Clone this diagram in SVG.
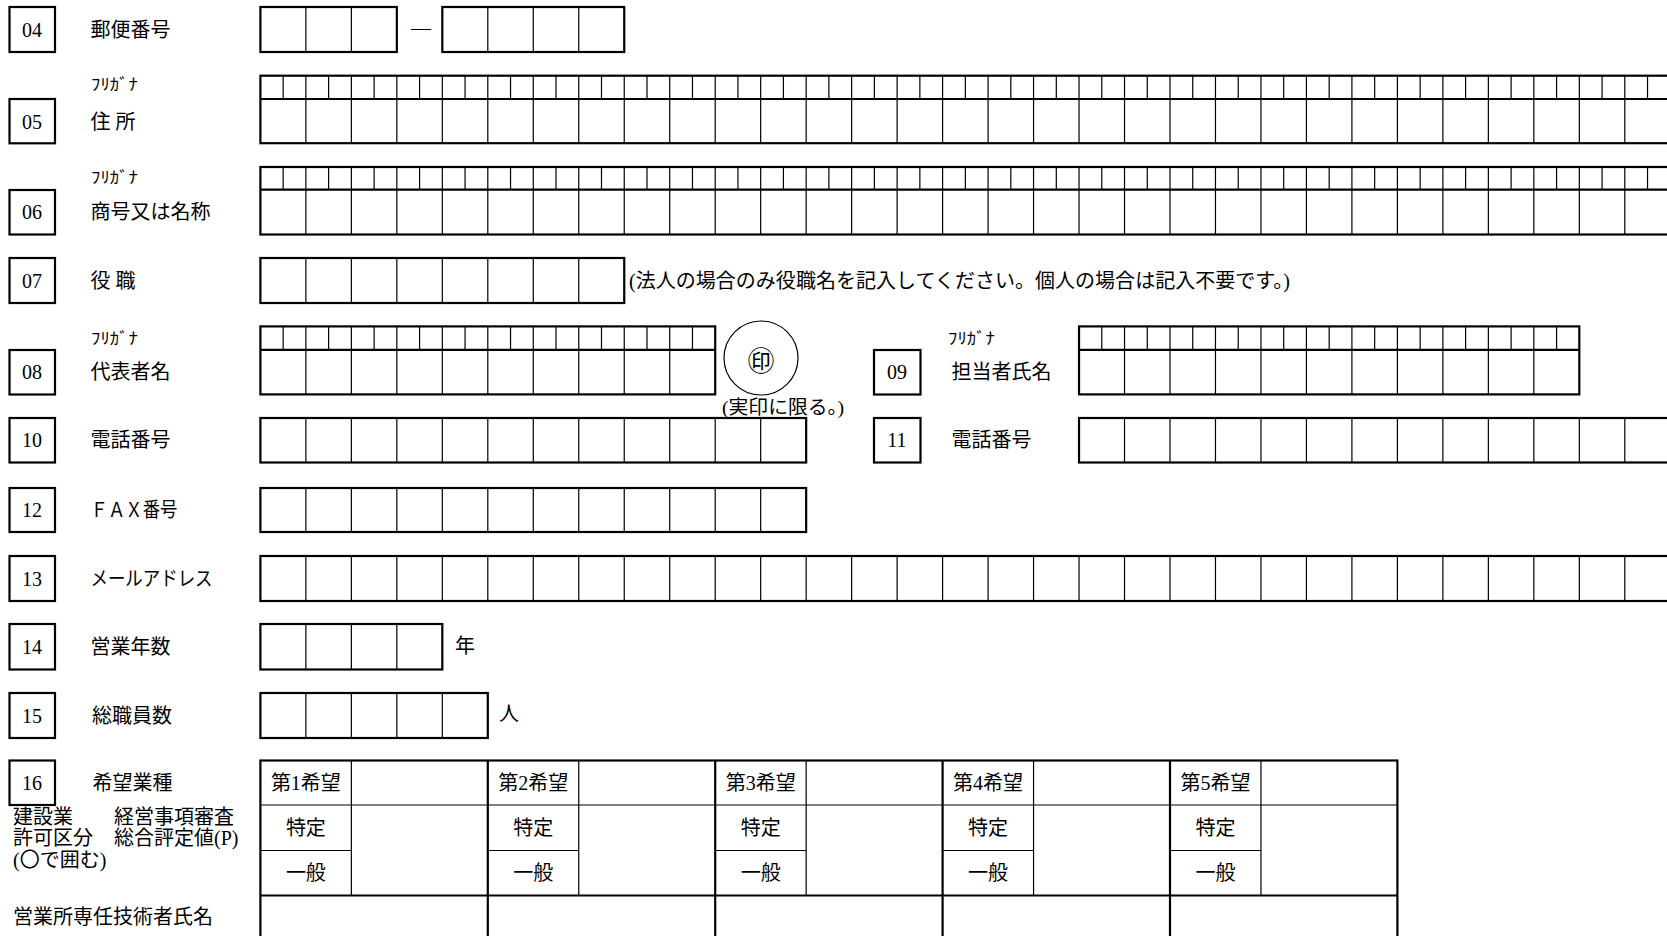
<svg xmlns="http://www.w3.org/2000/svg" width="1667" height="936" viewBox="0 0 1667 936">
<style>
.ob{fill:none;stroke:#000;stroke-width:2.2}
.ib{fill:none;stroke:#000;stroke-width:1.2}
.mb{fill:none;stroke:#000;stroke-width:1.9}
.t{font-family:"Liberation Serif","Noto Sans CJK JP",serif;font-size:20px;fill:#000;dominant-baseline:central}
.n{font-family:"Liberation Serif","Noto Sans CJK JP",serif;font-size:20px;fill:#000;dominant-baseline:central;text-anchor:middle}
.f{font-family:"Noto Sans CJK JP",sans-serif;font-size:16px;fill:#000;dominant-baseline:central}
.c{text-anchor:middle}
.seal{font-size:27px}
.s19{font-size:19px}
</style>
<rect x="0" y="0" width="1667" height="936" fill="#fff"/>
<g id="connectors"/>

<g id="f04">
<rect class="ob" x="9.5" y="7" width="45.5" height="45"/>
<text class="n" x="32" y="30">04</text>
<text class="t" x="90.5" y="30">郵便番号</text>
<rect class="ob" x="260.4" y="7" width="136.44" height="45"/>
<path class="ib" d="M305.88 7v45m45.48-45v45"/>
<text class="t c" x="421" y="28">―</text>
<rect class="ob" x="442.32" y="7" width="181.92" height="45"/>
<path class="ib" d="M487.8 7v45m45.48-45v45m45.48-45v45"/>
</g>

<g id="f05">
<rect class="ob" x="9.5" y="99" width="45.5" height="44.3"/>
<text class="n" x="32" y="122">05</text>
<text class="f" x="91" y="83" textLength="47" lengthAdjust="spacingAndGlyphs">ﾌﾘｶﾞﾅ</text>
<text class="t" x="90.5" y="122">住 所</text>
<rect class="ob" x="260.4" y="75.7" width="1409.88" height="67.5"/>
<path class="ob" d="M260.4 99H1670.28"/>
<path class="ib" d="M305.88 75.7v67.5m45.48-67.5v67.5m45.48-67.5v67.5m45.48-67.5v67.5m45.48-67.5v67.5m45.48-67.5v67.5m45.48-67.5v67.5m45.48-67.5v67.5m45.48-67.5v67.5m45.48-67.5v67.5m45.48-67.5v67.5m45.48-67.5v67.5m45.48-67.5v67.5m45.48-67.5v67.5m45.48-67.5v67.5m45.48-67.5v67.5m45.48-67.5v67.5m45.48-67.5v67.5m45.48-67.5v67.5m45.48-67.5v67.5m45.48-67.5v67.5m45.48-67.5v67.5m45.48-67.5v67.5m45.48-67.5v67.5m45.48-67.5v67.5m45.48-67.5v67.5m45.48-67.5v67.5m45.48-67.5v67.5m45.48-67.5v67.5m45.48-67.5v67.5"/>
<path class="ib" d="M283.14 75.7v23.3m45.48-23.3v23.3m45.48-23.3v23.3m45.48-23.3v23.3m45.48-23.3v23.3m45.48-23.3v23.3m45.48-23.3v23.3m45.48-23.3v23.3m45.48-23.3v23.3m45.48-23.3v23.3m45.48-23.3v23.3m45.48-23.3v23.3m45.48-23.3v23.3m45.48-23.3v23.3m45.48-23.3v23.3m45.48-23.3v23.3m45.48-23.3v23.3m45.48-23.3v23.3m45.48-23.3v23.3m45.48-23.3v23.3m45.48-23.3v23.3m45.48-23.3v23.3m45.48-23.3v23.3m45.48-23.3v23.3m45.48-23.3v23.3m45.48-23.3v23.3m45.48-23.3v23.3m45.48-23.3v23.3m45.48-23.3v23.3m45.48-23.3v23.3m45.48-23.3v23.3"/>
</g>

<g id="f06">
<rect class="ob" x="9.5" y="190" width="45.5" height="44.5"/>
<text class="n" x="32" y="212">06</text>
<text class="f" x="91" y="176" textLength="47" lengthAdjust="spacingAndGlyphs">ﾌﾘｶﾞﾅ</text>
<text class="t" x="90.5" y="212">商号又は名称</text>
<rect class="ob" x="260.4" y="167" width="1409.88" height="67.5"/>
<path class="ob" d="M260.4 189.7H1670.28"/>
<path class="ib" d="M305.88 167v67.5m45.48-67.5v67.5m45.48-67.5v67.5m45.48-67.5v67.5m45.48-67.5v67.5m45.48-67.5v67.5m45.48-67.5v67.5m45.48-67.5v67.5m45.48-67.5v67.5m45.48-67.5v67.5m45.48-67.5v67.5m45.48-67.5v67.5m45.48-67.5v67.5m45.48-67.5v67.5m45.48-67.5v67.5m45.48-67.5v67.5m45.48-67.5v67.5m45.48-67.5v67.5m45.48-67.5v67.5m45.48-67.5v67.5m45.48-67.5v67.5m45.48-67.5v67.5m45.48-67.5v67.5m45.48-67.5v67.5m45.48-67.5v67.5m45.48-67.5v67.5m45.48-67.5v67.5m45.48-67.5v67.5m45.48-67.5v67.5m45.48-67.5v67.5"/>
<path class="ib" d="M283.14 167v22.7m45.48-22.7v22.7m45.48-22.7v22.7m45.48-22.7v22.7m45.48-22.7v22.7m45.48-22.7v22.7m45.48-22.7v22.7m45.48-22.7v22.7m45.48-22.7v22.7m45.48-22.7v22.7m45.48-22.7v22.7m45.48-22.7v22.7m45.48-22.7v22.7m45.48-22.7v22.7m45.48-22.7v22.7m45.48-22.7v22.7m45.48-22.7v22.7m45.48-22.7v22.7m45.48-22.7v22.7m45.48-22.7v22.7m45.48-22.7v22.7m45.48-22.7v22.7m45.48-22.7v22.7m45.48-22.7v22.7m45.48-22.7v22.7m45.48-22.7v22.7m45.48-22.7v22.7m45.48-22.7v22.7m45.48-22.7v22.7m45.48-22.7v22.7m45.48-22.7v22.7"/>
</g>

<g id="f07">
<rect class="ob" x="9.5" y="258" width="45.5" height="45"/>
<text class="n" x="32" y="281">07</text>
<text class="t" x="90.5" y="281">役 職</text>
<rect class="ob" x="260.4" y="258" width="363.84" height="45"/>
<path class="ib" d="M305.88 258v45m45.48-45v45m45.48-45v45m45.48-45v45m45.48-45v45m45.48-45v45m45.48-45v45"/>
<text class="t" x="629" y="281" textLength="661" lengthAdjust="spacingAndGlyphs">(法人の場合のみ役職名を記入してください。個人の場合は記入不要です。)</text>
</g>

<g id="f08">
<rect class="ob" x="9.5" y="350" width="45.5" height="44.5"/>
<text class="n" x="32" y="372">08</text>
<text class="f" x="91" y="337" textLength="47" lengthAdjust="spacingAndGlyphs">ﾌﾘｶﾞﾅ</text>
<text class="t" x="90.5" y="372">代表者名</text>
<rect class="ob" x="260.4" y="326.4" width="454.8" height="68"/>
<path class="ob" d="M260.4 349.8H715.2"/>
<path class="ib" d="M305.88 326.4v68m45.48-68v68m45.48-68v68m45.48-68v68m45.48-68v68m45.48-68v68m45.48-68v68m45.48-68v68m45.48-68v68"/>
<path class="ib" d="M283.14 326.4v23.4m45.48-23.4v23.4m45.48-23.4v23.4m45.48-23.4v23.4m45.48-23.4v23.4m45.48-23.4v23.4m45.48-23.4v23.4m45.48-23.4v23.4m45.48-23.4v23.4m45.48-23.4v23.4"/>
<circle class="ib" cx="761" cy="358" r="37"/>
<text class="f c seal" x="761" y="359">㊞</text>
<text class="t s19" x="722" y="407" textLength="122" lengthAdjust="spacingAndGlyphs">(実印に限る。)</text>
</g>

<g id="f09">
<rect class="ob" x="874" y="350" width="46.5" height="44.5"/>
<text class="n" x="897" y="372">09</text>
<text class="f" x="948" y="337" textLength="47" lengthAdjust="spacingAndGlyphs">ﾌﾘｶﾞﾅ</text>
<text class="t" x="951.5" y="372">担当者氏名</text>
<rect class="ob" x="1079.04" y="326.4" width="500.28" height="68"/>
<path class="ob" d="M1079.04 349.8H1579.32"/>
<path class="ib" d="M1124.52 326.4v68m45.48-68v68m45.48-68v68m45.48-68v68m45.48-68v68m45.48-68v68m45.48-68v68m45.48-68v68m45.48-68v68m45.48-68v68"/>
<path class="ib" d="M1101.78 326.4v23.4m45.48-23.4v23.4m45.48-23.4v23.4m45.48-23.4v23.4m45.48-23.4v23.4m45.48-23.4v23.4m45.48-23.4v23.4m45.48-23.4v23.4m45.48-23.4v23.4m45.48-23.4v23.4m45.48-23.4v23.4"/>
</g>

<g id="f10">
<rect class="ob" x="9.5" y="418" width="45.5" height="44.5"/>
<text class="n" x="32" y="440">10</text>
<text class="t" x="90.5" y="440">電話番号</text>
<rect class="ob" x="260.4" y="418" width="545.76" height="44.5"/>
<path class="ib" d="M305.88 418v44.5m45.48-44.5v44.5m45.48-44.5v44.5m45.48-44.5v44.5m45.48-44.5v44.5m45.48-44.5v44.5m45.48-44.5v44.5m45.48-44.5v44.5m45.48-44.5v44.5m45.48-44.5v44.5m45.48-44.5v44.5"/>
</g>

<g id="f11">
<rect class="ob" x="874" y="418" width="46.5" height="44.5"/>
<text class="n" x="897" y="440">11</text>
<text class="t" x="951.5" y="440">電話番号</text>
<rect class="ob" x="1079.04" y="418" width="591.24" height="44.5"/>
<path class="ib" d="M1124.52 418v44.5m45.48-44.5v44.5m45.48-44.5v44.5m45.48-44.5v44.5m45.48-44.5v44.5m45.48-44.5v44.5m45.48-44.5v44.5m45.48-44.5v44.5m45.48-44.5v44.5m45.48-44.5v44.5m45.48-44.5v44.5m45.48-44.5v44.5"/>
</g>

<g id="f12">
<rect class="ob" x="9.5" y="488" width="45.5" height="44"/>
<text class="n" x="32" y="510">12</text>
<text class="t" x="90.5" y="510" textLength="87" lengthAdjust="spacingAndGlyphs">ＦＡＸ番号</text>
<rect class="ob" x="260.4" y="488" width="545.76" height="44"/>
<path class="ib" d="M305.88 488v44m45.48-44v44m45.48-44v44m45.48-44v44m45.48-44v44m45.48-44v44m45.48-44v44m45.48-44v44m45.48-44v44m45.48-44v44m45.48-44v44"/>
</g>

<g id="f13">
<rect class="ob" x="9.5" y="556" width="45.5" height="45"/>
<text class="n" x="32" y="578.5">13</text>
<text class="t" x="90.5" y="578.5" textLength="122" lengthAdjust="spacingAndGlyphs">メールアドレス</text>
<rect class="ob" x="260.4" y="556" width="1409.88" height="45"/>
<path class="ib" d="M305.88 556v45m45.48-45v45m45.48-45v45m45.48-45v45m45.48-45v45m45.48-45v45m45.48-45v45m45.48-45v45m45.48-45v45m45.48-45v45m45.48-45v45m45.48-45v45m45.48-45v45m45.48-45v45m45.48-45v45m45.48-45v45m45.48-45v45m45.48-45v45m45.48-45v45m45.48-45v45m45.48-45v45m45.48-45v45m45.48-45v45m45.48-45v45m45.48-45v45m45.48-45v45m45.48-45v45m45.48-45v45m45.48-45v45m45.48-45v45"/>
</g>

<g id="f14">
<rect class="ob" x="9.5" y="624" width="45.5" height="45.5"/>
<text class="n" x="32" y="647">14</text>
<text class="t" x="90.5" y="647">営業年数</text>
<rect class="ob" x="260.4" y="624" width="181.92" height="45.5"/>
<path class="ib" d="M305.88 624v45.5m45.48-45.5v45.5m45.48-45.5v45.5"/>
<text class="t" x="455" y="646">年</text>
</g>

<g id="f15">
<rect class="ob" x="9.5" y="693" width="45.5" height="45"/>
<text class="n" x="32" y="715.5">15</text>
<text class="t" x="92" y="715.5">総職員数</text>
<rect class="ob" x="260.4" y="693" width="227.4" height="45"/>
<path class="ib" d="M305.88 693v45m45.48-45v45m45.48-45v45m45.48-45v45"/>
<text class="t" x="499" y="714">人</text>
</g>

<g id="f16">
<rect class="ob" x="9.5" y="760.5" width="45.5" height="44.5"/>
<text class="n" x="32" y="783">16</text>
<text class="t" x="92.5" y="783">希望業種</text>
<text class="t" x="13" y="817">建設業<tspan x="114">経営事項審査</tspan></text>
<text class="t" x="13" y="838">許可区分<tspan x="114">総合評定値(P)</tspan></text>
<text class="t" x="13" y="859.5">(〇で囲む)</text>
<text class="t" x="13" y="917">営業所専任技術者氏名</text>
<rect class="ob" x="260.4" y="760.5" width="1137" height="190"/>
<path class="ob" d="M487.8 760.5V950M715.2 760.5V950M942.6 760.5V950M1170 760.5V950"/>
<path class="ib" d="M260.4 805H1397.4M351.36 760.5V895.5M578.76 760.5V895.5M806.16 760.5V895.5M1033.56 760.5V895.5M1260.96 760.5V895.5M260.4 850.5h90.96M487.8 850.5h90.96M715.2 850.5h90.96M942.6 850.5h90.96M1170 850.5h90.96"/>
<path class="mb" d="M260.4 895.5H1397.4"/>
<text class="n" x="305.88" y="783">第1希望</text>
<text class="n" x="533.28" y="783">第2希望</text>
<text class="n" x="760.68" y="783">第3希望</text>
<text class="n" x="988.08" y="783">第4希望</text>
<text class="n" x="1215.48" y="783">第5希望</text>
<text class="n" x="305.88" y="828">特定</text>
<text class="n" x="533.28" y="828">特定</text>
<text class="n" x="760.68" y="828">特定</text>
<text class="n" x="988.08" y="828">特定</text>
<text class="n" x="1215.48" y="828">特定</text>
<text class="n" x="305.88" y="873">一般</text>
<text class="n" x="533.28" y="873">一般</text>
<text class="n" x="760.68" y="873">一般</text>
<text class="n" x="988.08" y="873">一般</text>
<text class="n" x="1215.48" y="873">一般</text>
</g>
</svg>
